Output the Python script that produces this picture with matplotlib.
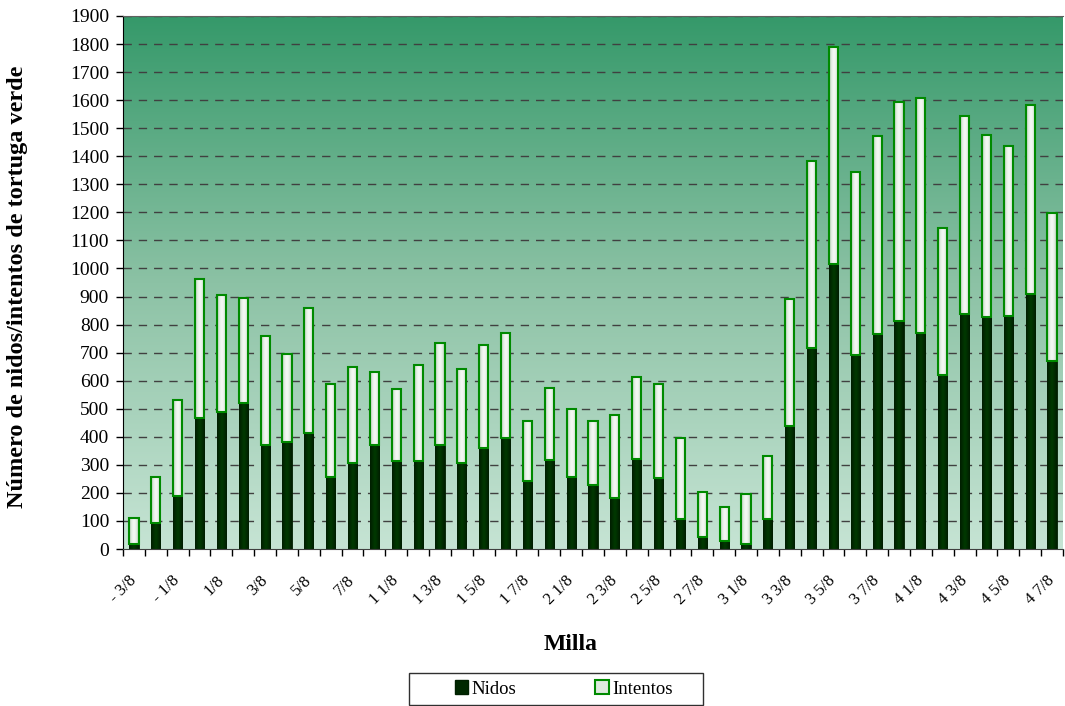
import numpy as np
import matplotlib
matplotlib.use("Agg")
import matplotlib.pyplot as plt
from matplotlib.patches import Patch, Rectangle
from matplotlib.colors import LinearSegmentedColormap

plt.rcParams['font.family'] = ['Liberation Serif', 'DejaVu Serif']

mile_labels = ["- 3/8", "- 1/4", "- 1/8", "0", "1/8", "1/4", "3/8", "1/2", "5/8", "3/4",
               "7/8", "1", "1 1/8", "1 1/4", "1 3/8", "1 1/2", "1 5/8", "1 3/4", "1 7/8", "2",
               "2 1/8", "2 1/4", "2 3/8", "2 1/2", "2 5/8", "2 3/4", "2 7/8", "3", "3 1/8", "3 1/4",
               "3 3/8", "3 1/2", "3 5/8", "3 3/4", "3 7/8", "4", "4 1/8", "4 1/4", "4 3/8", "4 1/2",
               "4 5/8", "4 3/4", "4 7/8"]

nidos = [19, 93, 188, 468, 490, 522, 372, 382, 412, 255,
         307, 372, 313, 313, 372, 305, 359, 394, 244, 316,
         258, 227, 181, 321, 252, 107, 41, 29, 19, 107,
         438, 716, 1017, 690, 767, 814, 769, 621, 839, 827,
         830, 909, 669]

totales = [112, 257, 532, 961, 905, 895, 760, 696, 859, 588,
           648, 630, 570, 655, 736, 643, 728, 771, 458, 573,
           498, 458, 478, 613, 587, 395, 204, 148, 195, 332,
           890, 1383, 1788, 1343, 1472, 1593, 1607, 1143, 1544, 1477,
           1437, 1584, 1196]

intentos = [t - n for t, n in zip(totales, nidos)]

fig = plt.figure(figsize=(10.65, 7.06), dpi=100)
ax = fig.add_axes([123/1065, 1 - 549/706, (1063-123)/1065, (549-16)/706])

n = len(mile_labels)
x = np.arange(n)
xmin, xmax = -0.5, n - 0.5

# gradient background
cmap = LinearSegmentedColormap.from_list("bg", ["#c6e4d4", "#8cc2a5", "#35996a"])
grad = np.linspace(0, 1, 256).reshape(-1, 1)
ax.imshow(grad, extent=[xmin, xmax, 0, 1900], aspect='auto', cmap=cmap,
          origin='lower', zorder=0, interpolation='bicubic')

ax.set_xlim(xmin, xmax)
ax.set_ylim(0, 1900)

for yv in range(100, 1901, 100):
    ax.axhline(yv, color='#404040', lw=1.0, linestyle=(0, (6, 5)), zorder=1)

w = 0.42
b1 = ax.bar(x, nidos, width=w, color='#002800', edgecolor='#002000', lw=0.6, zorder=2)
b2 = ax.bar(x, intentos, width=w, bottom=nidos, color='none', edgecolor='#008a00', lw=1.5, zorder=3)

# cylinder-like shading inside bars
hgrad = np.abs(np.linspace(-1, 1, 64)).reshape(1, -1)
cm_int = LinearSegmentedColormap.from_list("int", ["#f6faf6", "#e4eee4", "#a9c2a9"])
cm_nid = LinearSegmentedColormap.from_list("nid", ["#003a00", "#002c00", "#001c00"])
for bars, cm in ((b2, cm_int), (b1, cm_nid)):
    for p in bars.patches:
        x0, y0 = p.get_x(), p.get_y()
        im = ax.imshow(hgrad, extent=[x0, x0 + p.get_width(), y0, y0 + p.get_height()],
                       aspect='auto', cmap=cm, vmin=0, vmax=1, zorder=2.5, interpolation='bicubic')
        im.set_clip_path(p)

ax.set_xlim(xmin, xmax)
ax.set_ylim(0, 1900)

ax.set_yticks(range(0, 1901, 100))
ax.tick_params(axis='y', labelsize=14, length=5, direction='out', width=1, pad=5)

ax.set_xticks(x[::2])
ax.set_xticklabels(mile_labels[::2], rotation=45, ha='right', va='center',
                   rotation_mode='anchor', fontsize=12)
ax.tick_params(axis='x', which='major', length=0, pad=21)
ax.set_xticks(np.arange(-0.5, n, 1), minor=True)
ax.tick_params(axis='x', which='minor', length=5, width=1, direction='out')

ax.spines['right'].set_visible(False)
ax.spines['top'].set_color('#606060')
ax.spines['left'].set_color('black')
ax.spines['bottom'].set_color('#404040')

fig.text(571/1065, 1 - 645/706, "Milla", ha='center', va='center', fontsize=17, fontweight='bold')
fig.text(18/1065, 1 - 287/706, "Número de nidos/intentos de tortuga verde", ha='center', va='center',
         rotation=90, fontsize=17.5, fontweight='bold')

# legend
fig.patches.append(Rectangle((409/1065, 1 - 705/706), 294/1065, 32/706, transform=fig.transFigure,
                             facecolor='white', edgecolor='#303030', lw=1.0, zorder=1))
handles = [Patch(facecolor='#002800', edgecolor='#002000'),
           Patch(facecolor='#dfeadf', edgecolor='#008a00', lw=1.5)]
leg = fig.legend(handles, ["Nidos", "Intentos"], loc='center left',
                 bbox_to_anchor=(455/1065, 1 - 689/706),
                 ncol=2, fontsize=13.5, frameon=False,
                 handlelength=0.7, handleheight=0.7, handletextpad=0.2, columnspacing=4.2,
                 borderpad=0.0, borderaxespad=0)
leg.set_zorder(2)

fig.savefig("out.png", dpi=100)
